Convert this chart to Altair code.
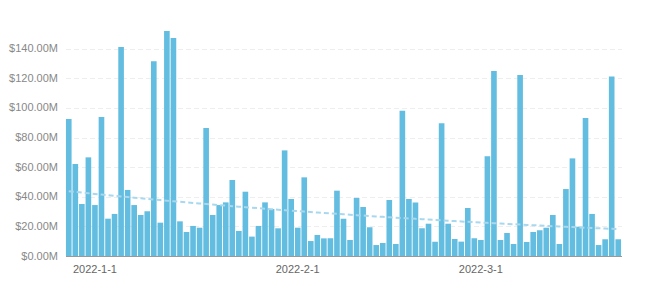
import altair as alt
import pandas as pd

values = [92.5, 62.1, 35.1, 66.6, 34.4, 93.8, 25.2, 28.4, 141.1, 44.6,
          34.4, 27.7, 30.2, 131.4, 22.5, 151.9, 147.2, 23.4, 16.2, 20.3,
          19.1, 86.4, 27.7, 34.4, 36.2, 51.3, 16.9, 43.4, 13.1, 20.3,
          36.2, 31.7, 18.7, 71.3, 38.5, 19.1, 53.1, 10.1, 14.2, 11.9,
          11.9, 44.1, 25.2, 10.8, 39.2, 33.1, 19.4, 7.4, 8.8, 37.8,
          8.1, 98.1, 38.5, 36.2, 18.7, 21.8, 9.7, 89.6, 21.8, 11.5,
          9.7, 32.4, 11.9, 10.8, 67.3, 124.9, 10.8, 15.5, 8.1, 122.2,
          9.5, 16.2, 17.3, 19.1, 27.7, 8.1, 45.2, 65.9, 19.8, 93.2,
          28.4, 7.4, 11.3, 121.1, 11.3]

dates = [f"{d.year}-{d.month}-{d.day}" for d in pd.date_range("2021-12-28", periods=len(values), freq="D")]
tick_labels = ["2022-1-1", "2022-2-1", "2022-3-1"]
y_ticks = [0, 20, 40, 60, 80, 100, 120, 140]

df = pd.DataFrame({"date": dates, "value": values, "idx": list(range(len(values)))})

ymax = max(values)
yscale = alt.Scale(domain=[0, ymax], nice=False, zero=True)
yaxis = alt.Axis(values=y_ticks, title=None, ticks=False, domain=False,
                 labelOverlap=False,
                 labelExpr="'$' + format(datum.value, '.2f') + 'M'",
                 labelColor="#888888", labelFontSize=11, labelFont="Liberation Sans",
                 labelPadding=8, gridColor="#eeeeee", gridDash=[5, 3], gridWidth=1)

bars = alt.Chart(df).mark_bar(color="#62bde0").encode(
    x=alt.X("date:O", sort=None,
            scale=alt.Scale(paddingInner=0.14, paddingOuter=0.07),
            axis=alt.Axis(values=tick_labels, labelAngle=0, title=None, ticks=False,
                          domainColor="#999999", labelColor="#666666",
                          labelFontSize=11, labelFont="Liberation Sans", labelPadding=7)),
    y=alt.Y("value:Q", scale=yscale, axis=yaxis),
)

# exponential trend: least squares fit of ln(value) on idx
trend = alt.Chart(df).transform_calculate(
    lnv="log(datum.value)", xl="datum.idx * log(datum.value)", xx="datum.idx * datum.idx"
).transform_joinaggregate(
    mx="mean(idx)", my="mean(lnv)", mxy="mean(xl)", mxx="mean(xx)"
).transform_calculate(
    b="(datum.mxy - datum.mx * datum.my) / (datum.mxx - datum.mx * datum.mx)"
).transform_calculate(
    trendv="exp(datum.my + datum.b * (datum.idx - datum.mx))"
).mark_line(
    color="#a8d8ee", strokeWidth=2, strokeDash=[5, 3]
).encode(
    x=alt.X("idx:Q", scale=alt.Scale(domain=[-0.5, len(values) - 0.5], nice=False, zero=False), axis=None),
    y=alt.Y("trendv:Q", scale=yscale, axis=yaxis),
)

chart = alt.layer(bars, trend).resolve_scale(x="independent").properties(
    width=556, height=225,
    autosize=alt.AutoSizeParams(type="none"),
    padding={"left": 65.5, "top": 31, "right": 26.5, "bottom": 32},
    background="white",
).configure_view(stroke=None).configure_axis(labelOverlap=False)

chart.save("out.html", embed_options={"renderer": "svg", "actions": False})
